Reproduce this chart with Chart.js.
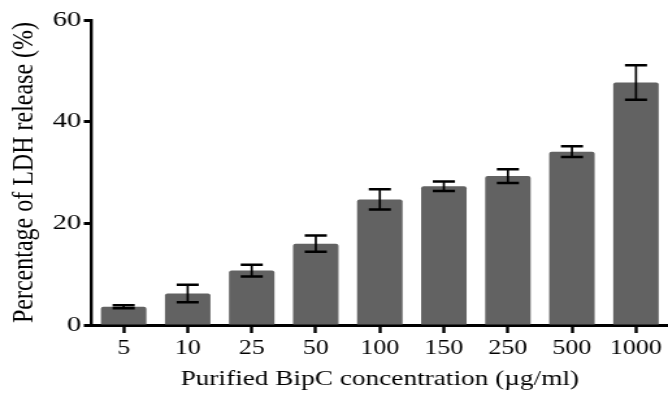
<!DOCTYPE html>
<html>
<head>
<meta charset="utf-8">
<script src="https://cdn.jsdelivr.net/npm/chart.js@4"></script>
<style>
  html, body { margin: 0; padding: 0; background: #fff; overflow: hidden; }
  #wrap { width: 514px; height: 398px; transform: scaleX(1.2996); transform-origin: 0 0; }
</style>
</head>
<body>
<div id="wrap"><canvas id="ldhChart" width="514" height="398"></canvas></div>
<script>
// Concentrations (µg/ml) and LDH release (%)
const concentrations = ['5', '10', '25', '50', '100', '150', '250', '500', '1000'];
const ldhMean = [3.6, 6.2, 10.7, 16.0, 24.7, 27.3, 29.3, 34.1, 47.7];
const ldhError = [0.3, 1.7, 1.15, 1.6, 2.0, 0.95, 1.35, 1.05, 3.4];
const yTicks = [0, 20, 40, 60];

const serif = "'Liberation Serif', 'Times New Roman', serif";

// Barres d'erreur dessinées avec les échelles du graphique
const errorBars = {
    id: 'errorBars',
    afterDatasetsDraw(chart) {
        const ctx = chart.ctx;
        const x = chart.scales.x;
        const y = chart.scales.y;
        ctx.save();
        ctx.strokeStyle = '#000';
        ldhMean.forEach((m, i) => {
            const cx = x.getPixelForValue(i);
            const top = y.getPixelForValue(m + ldhError[i]);
            const bot = y.getPixelForValue(m - ldhError[i]);
            const half = 8.5;
            ctx.lineWidth = 1.7;
            ctx.beginPath();
            ctx.moveTo(cx, top);
            ctx.lineTo(cx, bot);
            ctx.stroke();
            ctx.lineWidth = 2.5;
            ctx.beginPath();
            ctx.moveTo(cx - half, top);
            ctx.lineTo(cx + half, top);
            ctx.moveTo(cx - half, bot);
            ctx.lineTo(cx + half, bot);
            ctx.stroke();
        });
        ctx.restore();
    }
};

new Chart(document.getElementById('ldhChart'), {
    type: 'bar',
    data: {
        labels: concentrations,
        datasets: [{
            data: ldhMean,
            backgroundColor: '#626262',
            borderRadius: 2,
            borderSkipped: 'bottom',
            barPercentage: 0.71,
            categoryPercentage: 1.0
        }]
    },
    options: {
        responsive: false,
        animation: false,
        layout: { padding: { top: 20, left: 0, right: 0, bottom: 0 } },
        plugins: {
            legend: { display: false },
            tooltip: { enabled: false }
        },
        scales: {
            x: {
                offset: true,
                afterFit(scale) { scale.height = 73; },
                border: { display: true, color: '#000', width: 3 },
                grid: {
                    offset: false,
                    drawOnChartArea: false,
                    drawTicks: true,
                    tickLength: 8,
                    tickWidth: 2.4,
                    tickColor: '#000'
                },
                ticks: {
                    color: '#000',
                    padding: 4,
                    maxRotation: 0,
                    font: { family: serif, size: 20 }
                },
                title: {
                    display: true,
                    text: 'Purified BipC concentration (µg/ml)',
                    color: '#000',
                    padding: { top: 0, bottom: 6 },
                    font: { family: serif, size: 21 }
                }
            },
            y: {
                min: 0,
                max: 60,
                afterFit(scale) { scale.width = 70.5; },
                afterBuildTicks(scale) { scale.ticks = yTicks.map(v => ({ value: v })); },
                border: { display: true, color: '#000', width: 2.4 },
                grid: {
                    drawOnChartArea: false,
                    drawTicks: true,
                    tickLength: 6,
                    tickWidth: 3,
                    tickColor: '#000'
                },
                ticks: {
                    color: '#000',
                    padding: 2,
                    font: { family: serif, size: 22 }
                },
                title: {
                    display: true,
                    text: 'Percentage of LDH release (%)',
                    color: '#000',
                    padding: { top: 4, bottom: 0 },
                    font: { family: serif, size: 24 }
                }
            }
        }
    },
    plugins: [errorBars]
});
</script>
</body>
</html>
